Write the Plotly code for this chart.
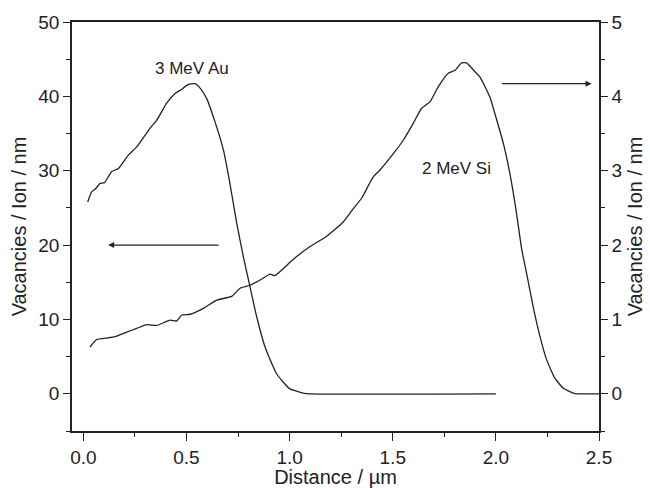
import plotly.graph_objects as go

# 3 MeV Au profile (left axis)
au_x = [0.021, 0.041, 0.057, 0.081, 0.102, 0.138, 0.17, 0.218, 0.259, 0.323, 0.356, 0.404,
        0.445, 0.469, 0.509, 0.541, 0.566, 0.598, 0.638, 0.679, 0.708, 0.744, 0.776, 0.808,
        0.841, 0.881, 0.937, 1.0, 1.066, 1.1, 2.0]
au_y = [25.8, 27.2, 27.5, 28.3, 28.4, 29.9, 30.3, 32.1, 33.2, 35.7, 36.8, 39.1,
        40.4, 40.8, 41.6, 41.7, 41.1, 39.7, 36.6, 32.8, 28.7, 22.9, 18.4, 14.4,
        10.3, 6.3, 2.7, 0.7, 0.1, 0.0, 0.0]

# 2 MeV Si profile (right axis)
si_x = [0.032, 0.065, 0.113, 0.154, 0.21, 0.259, 0.307, 0.356, 0.42, 0.453, 0.477, 0.517,
        0.582, 0.647, 0.719, 0.76, 0.808, 0.857, 0.905, 0.929, 1.018, 1.099, 1.18, 1.26,
        1.309, 1.349, 1.406, 1.438, 1.503, 1.551, 1.6, 1.64, 1.681, 1.721, 1.769, 1.802,
        1.834, 1.858, 1.899, 1.923, 1.971, 1.995, 2.036, 2.068, 2.1, 2.125, 2.149, 2.181,
        2.214, 2.246, 2.286, 2.327, 2.375, 2.4, 2.5]
si_y = [0.63, 0.73, 0.75, 0.77, 0.83, 0.88, 0.93, 0.92, 0.99, 0.98, 1.06, 1.07,
        1.15, 1.26, 1.31, 1.42, 1.46, 1.53, 1.61, 1.59, 1.81, 1.98, 2.12, 2.31,
        2.49, 2.63, 2.92, 3.01, 3.23, 3.41, 3.64, 3.84, 3.93, 4.13, 4.31, 4.35,
        4.45, 4.45, 4.33, 4.26, 3.99, 3.77, 3.37, 2.96, 2.43, 1.95, 1.62, 1.17,
        0.77, 0.46, 0.21, 0.075, 0.01, 0.0, 0.0]

x_ticks = [0.0, 0.5, 1.0, 1.5, 2.0, 2.5]
x_ticklabels = ["0.0", "0.5", "1.0", "1.5", "2.0", "2.5"]

FONT = "Liberation Sans, Arial, sans-serif"
INK = "#222222"
TICK_SIZE = 19
TITLE_SIZE = 20

fig = go.Figure()
fig.add_trace(go.Scatter(x=au_x, y=au_y, mode="lines", yaxis="y",
                         line=dict(color=INK, width=1.3, shape="spline", smoothing=0.5),
                         showlegend=False))
fig.add_trace(go.Scatter(x=si_x, y=si_y, mode="lines", yaxis="y2",
                         line=dict(color=INK, width=1.3, shape="spline", smoothing=0.5),
                         showlegend=False))

axis_common = dict(showline=True, linecolor=INK, linewidth=1.5, showgrid=False,
                   zeroline=False, ticks="outside", tickcolor=INK, tickwidth=1.3,
                   automargin=False,
                   tickfont=dict(family=FONT, size=TICK_SIZE, color=INK))

fig.update_layout(
    width=650, height=488,
    margin=dict(l=72, r=51, t=22, b=57),
    paper_bgcolor="white", plot_bgcolor="white",
    font=dict(family=FONT, color=INK),
    xaxis=dict(**axis_common, range=[-0.055, 2.5], tickvals=x_ticks, ticktext=x_ticklabels,
               ticklen=8, mirror=True,
               minor=dict(ticks="outside", dtick=0.25, ticklen=4, tickcolor=INK, tickwidth=1.2),
               title=dict(text="Distance / µm", font=dict(family=FONT, size=TITLE_SIZE, color=INK), standoff=4)),
    yaxis=dict(**axis_common, range=[-5, 50], dtick=10, ticklen=7,
               minor=dict(ticks="outside", dtick=5, ticklen=4, tickcolor=INK, tickwidth=1.2),
               title=dict(text="Vacancies / Ion / nm", font=dict(family=FONT, size=TITLE_SIZE, color=INK), standoff=6)),
    yaxis2=dict(**axis_common, range=[-0.5, 5], dtick=1, ticklen=7, overlaying="y", side="right",
                minor=dict(ticks="outside", dtick=0.5, ticklen=4, tickcolor=INK, tickwidth=1.2),
                title=dict(text="Vacancies / Ion / nm", font=dict(family=FONT, size=TITLE_SIZE, color=INK), standoff=6)),
)

fig.add_annotation(x=0.525, y=43.8, xref="x", yref="y", text="3 MeV Au", showarrow=False,
                   font=dict(family=FONT, size=17, color=INK))
fig.add_annotation(x=1.81, y=30.3, xref="x", yref="y", text="2 MeV Si", showarrow=False,
                   font=dict(family=FONT, size=17, color=INK))
fig.add_annotation(x=0.12, y=20, xref="x", yref="y", ax=0.663, ay=20, axref="x", ayref="y",
                   text="", showarrow=True, arrowhead=2, arrowsize=1, arrowwidth=1.2,
                   arrowcolor=INK, standoff=0)
fig.add_annotation(x=2.464, y=4.17, xref="x", yref="y2", ax=2.023, ay=4.17, axref="x", ayref="y2",
                   text="", showarrow=True, arrowhead=2, arrowsize=1, arrowwidth=1.2,
                   arrowcolor=INK, standoff=0)

fig.write_html("out.html")
